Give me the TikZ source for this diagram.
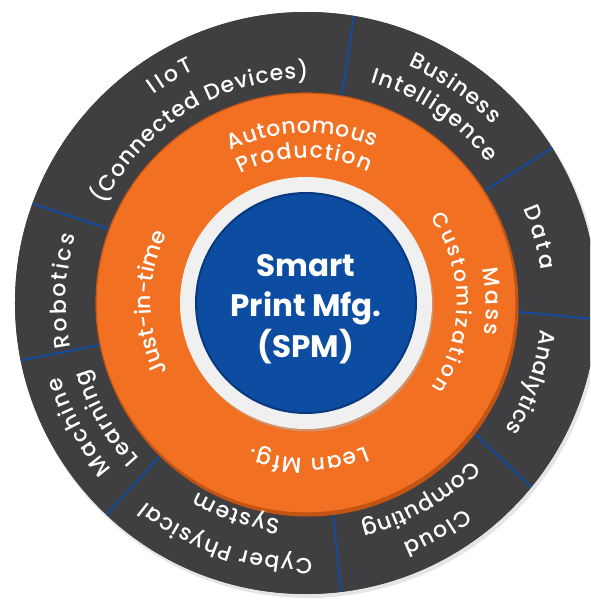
\documentclass[tikz,border=0pt]{standalone}
\usepackage{fontspec}
\setmainfont{Poppins}
\newfontfamily\ringfamily{Poppins Medium}
\usetikzlibrary{decorations.text}
\definecolor{ringgrey}{RGB}{63,63,65}
\definecolor{ringorange}{RGB}{241,112,34}
\definecolor{orangedark}{RGB}{196,84,20}
\definecolor{corelight}{RGB}{240,240,240}
\definecolor{coreblue}{RGB}{12,77,162}
\definecolor{coreedge}{RGB}{8,56,125}
\definecolor{dividerblue}{RGB}{16,76,166}
\newcommand\outerfont{\ringfamily\fontsize{22}{26}\selectfont}
\newcommand\innerfont{\ringfamily\fontsize{22}{26}\selectfont}
\newcommand\smallinnerfont{\ringfamily\fontsize{20.5}{25}\selectfont}
\newcommand\arclabel[5]{%
  \path[decorate, decoration={text along path, text align={fit to path}, text color=white, text={|#4|#5}}]
    (#1:#3) arc[start angle=#1, end angle=#2, radius=#3];
}
\tikzset{
  divline/.style={draw=dividerblue, line width=1.8pt},
  centertext/.style={text=white, font=\fontsize{31}{36}\selectfont\bfseries, inner sep=0pt}
}
\begin{document}
\begin{tikzpicture}[x=1pt,y=1pt]
\clip (-306,-297) rectangle (284,303);
\fill[white] (-306,-297) rectangle (284,303);
% outer ring
\fill[black!20, opacity=0.5] (2,-3) circle[radius=292];
\fill[ringgrey] (0,0) circle[radius=291];
\draw[black!75, line width=1pt] (0,0) circle[radius=290.5];
% dividers
\foreach \ai/\ao [count=\k] in {80.2/80.5, 32.1/32.2, -2.3/-3.2, -37.6/-39.2, -82.6/-83.1, -133.7/-133.3, 191.5/191.4, 159.4/160}{
  \coordinate (din\k) at (\ai:205);
  \coordinate (dout\k) at (\ao:291);
  \draw[divline] (din\k) -- (dout\k);
}
% orange ring
\fill[orangedark] (1.5,-2.5) circle[radius=211];
\fill[ringorange] (0,0) circle[radius=210];
\draw[orangedark, line width=1.2pt] (0,0) circle[radius=210];
% core
\fill[black!30, opacity=0.5] (1.5,-2.5) circle[radius=126];
\fill[corelight] (0,0) circle[radius=126];
\fill[coreblue] (0,0) circle[radius=110];
\draw[coreedge, line width=2pt] (0,0) circle[radius=110];
% centre text
\node[centertext, anchor=base] (smart) at (0,26.4) {Smart};
\node[centertext, anchor=base] (print) at (0,-13) {Print Mfg.};
\node[centertext, anchor=base] (spm) at (0,-54.5) {(SPM)};
% outer ring labels
\arclabel{126.2}{115.5}{258}{\outerfont}{IIoT}
\arclabel{154}{89.4}{224}{\outerfont}{(Connected Devices)}
\arclabel{66.7}{43.7}{258}{\outerfont}{Business}
\arclabel{73.7}{37.6}{230}{\outerfont}{Intelligence}
\arclabel{23.5}{8}{237}{\outerfont}{Data}
\arclabel{-6.4}{-32.5}{236}{\outerfont}{Analytics}
\arclabel{-52.3}{-68}{259}{\outerfont}{Cloud}
\arclabel{-43.5}{-76}{228}{\outerfont}{Computing}
\arclabel{-88.6}{-128.8}{255}{\outerfont}{Cyber Physical}
\arclabel{-96.8}{-119.8}{218}{\outerfont}{System}
\arclabel{220.6}{196.7}{256}{\outerfont}{Machine}
\arclabel{223}{197}{228}{\outerfont}{Learning}
\arclabel{190.7}{163.7}{240}{\outerfont}{Robotics}
% orange ring labels
\arclabel{116.3}{66.4}{170}{\innerfont}{Autonomous}
\arclabel{117}{64.6}{145}{\innerfont}{Production}
\arclabel{11}{-10}{180}{\innerfont}{Mass}
\arclabel{34.5}{-34}{151}{\smallinnerfont}{Customization}
\arclabel{-67.5}{-110.4}{155}{\innerfont}{Lean Mfg.}
\arclabel{206.4}{156}{155}{\innerfont}{Just-in-time}
\end{tikzpicture}
\end{document}
